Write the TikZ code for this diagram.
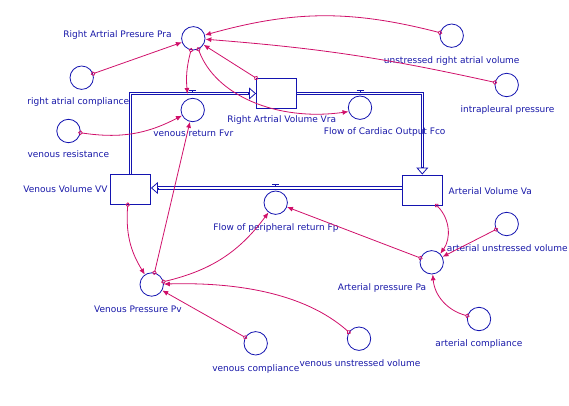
\documentclass[tikz,border=0pt]{standalone}
\usepackage{fontspec}
\setmainfont{DejaVu Sans}
\usetikzlibrary{arrows.meta,calc}
\definecolor{flowblue}{HTML}{1414B0}
\definecolor{linkpink}{HTML}{D0106A}
\definecolor{labelblue}{HTML}{1818A8}

\tikzset{
  conv/.style={circle,draw=flowblue,line width=0.8pt,minimum size=23.4pt,inner sep=0pt},
  stock/.style={rectangle,draw=flowblue,line width=0.9pt,fill=white,
                minimum width=40pt,minimum height=30pt,inner sep=0pt},
  lbl/.style={anchor=base,inner sep=0pt,text=labelblue,font=\fontsize{9}{10}\selectfont},
  pipe/.style={draw=flowblue,line width=0.85pt,double=white,double distance=1.6pt},
  pipehead/.style={draw=flowblue,line width=0.8pt,-{Triangle[open,length=7pt,width=12pt]}},
  link/.style={draw=linkpink,line width=0.8pt,
               {Circle[open,length=4.5pt]}-{Latex[length=6pt,width=5pt]},shorten <=-2.2pt},
  valve/.pic={\draw[flowblue,line width=0.8pt] (-3.5,-3.3) -- (3.5,-3.3) (0,-3.3) -- (0,-1.2);}
}

\begin{document}
\begin{tikzpicture}[x=1pt,y=-1pt]
\useasboundingbox (0,0) rectangle (569,406);

% stocks
\node[stock] (vra) at (276.5,93.5) {};
\node[stock] (vv) at (130.5,189.2) {};
\node[stock] (va) at (422.3,190) {};

% flows
\draw[pipe] (vv.north) |- ([xshift=-7pt]vra.west);
\draw[pipehead] ([xshift=-8pt]vra.west) -- (vra.west);
\draw[pipe] (vra.east) -| ([yshift=7pt]va.north);
\draw[pipehead] ([yshift=8pt]va.north) -- (va.north);
\draw[pipe] ($(va.west)+(0,-2)$) -- ($(va.west -| vv.east)+(7,-2)$);
\draw[pipehead] ($(va.west -| vv.east)+(8,-2)$) -- ($(va.west -| vv.east)+(0,-2)$);

% converters
\node[conv] (pra) at (193.3,38.3) {};
\node[conv] (rac) at (81.7,77.7) {};
\node[conv] (ura) at (451.7,35.7) {};
\node[conv] (ip) at (506.7,85) {};
\node[conv] (fvr) at (192.7,110) {};
\node[conv] (vres) at (68.5,131) {};
\node[conv] (fco) at (360,107.7) {};
\node[conv] (fp) at (275.7,202.7) {};
\node[conv] (pv) at (151.7,284.5) {};
\node[conv] (vc) at (255.7,343.3) {};
\node[conv] (vuv) at (359,338.7) {};
\node[conv] (pa) at (431.7,262.3) {};
\node[conv] (auv) at (506.7,224) {};
\node[conv] (ac) at (479,319) {};

\pic at (fvr.north |- vra.west) {valve};
\pic at (fco.north |- vra.east) {valve};
\pic at ($(fp.north |- va.west)+(0,-2)$) {valve};
\coordinate (fvrin) at (187.5,94);

% labels
\node[lbl] (pratext) at (117.5,37.6) {Right Artrial Presure Pra};
\node[lbl] (ractext) at (78.3,104.3) {right atrial compliance};
\node[lbl] (vrestext) at (68.3,157.6) {venous resistance};
\node[lbl] (fvrtext) at (193.3,136.6) {venous return Fvr};
\node[lbl] (vratext) at (281.7,123) {Right Artrial Volume Vra};
\node[lbl] (fcotext) at (384.7,135) {Flow of Cardiac Output Fco};
\node[lbl] (uratext) at (451.7,63.3) {unstressed right atrial volume};
\node[lbl] (iptext) at (507.5,112.3) {intrapleural pressure};
\node[lbl] (vvtext) at (65.5,192.3) {Venous Volume VV};
\node[lbl] (vatext) at (490.3,194) {Arterial Volume Va};
\node[lbl] (fptext) at (276,230) {Flow of peripheral return Fp};
\node[lbl] (auvtext) at (507.3,251) {arterial unstressed volume};
\node[lbl] (patext) at (382,290) {Arterial pressure Pa};
\node[lbl] (actext) at (478.8,346) {arterial compliance};
\node[lbl] (pvtext) at (138,312) {Venous Pressure Pv};
\node[lbl] (vctext) at (255.8,371) {venous compliance};
\node[lbl] (vuvtext) at (360,366) {venous unstressed volume};

% connectors
\draw[link] (rac) -- (pra);
\draw[link] (ura) to[bend right=15] (pra);
\draw[link] (ip) to[bend right=4] (pra);
\draw[link] (vra.north west) -- (pra);
\draw[link] (pra.-101) to[bend right=10] (fvrin);
\draw[link] (pra.-65) .. controls +(17,46) and +(-72,10) .. (fco.199);
\draw[link] (vres) to[bend right=18] (fvr);
\draw[link] (pv) -- (fvr);
\draw[link] (vv.-100) to[bend right=18] (pv);
\draw[link] (pv) to[bend right=20] (fp);
\draw[link] (pa) -- (fp);
\draw[link] (va.-47) to[bend left=40] (pa);
\draw[link] (auv) -- (pa);
\draw[link] (ac) to[bend left=35] (pa);
\draw[link] (vc) -- (pv);
\draw[link] (vuv.147) .. controls +(-45,-40) and +(70,-2) .. (pv.2);

\end{tikzpicture}
\end{document}
